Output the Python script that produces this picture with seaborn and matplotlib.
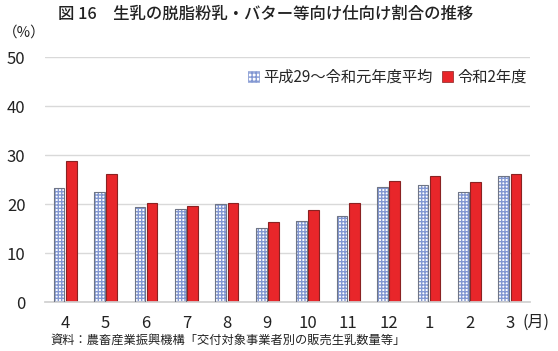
import matplotlib
matplotlib.use("Agg")
import matplotlib.pyplot as plt
import seaborn as sns
import pandas as pd
from matplotlib.patches import Rectangle, Patch

months = ["4", "5", "6", "7", "8", "9", "10", "11", "12", "1", "2", "3"]
avg_h29_r1 = [23.3, 22.4, 19.4, 19.0, 20.0, 15.1, 16.6, 17.6, 23.5, 23.8, 22.4, 25.8]
r2 = [28.8, 26.2, 20.3, 19.6, 20.2, 16.4, 18.7, 20.2, 24.7, 25.7, 24.4, 26.2]
series_names = ["平成29～令和元年度平均", "令和2年度"]
yticks = [0, 10, 20, 30, 40, 50]

sns.set_theme(style="white")
plt.rcParams['font.family'] = ['Noto Sans CJK JP', 'DejaVu Sans']

df = pd.DataFrame({
    "month": months * 2,
    "value": avg_h29_r1 + r2,
    "series": [series_names[0]] * len(months) + [series_names[1]] * len(months),
})

fig = plt.figure(figsize=(5.58, 3.51), dpi=100)
ax = fig.add_axes([0.0806, 0.1396, 0.8694, 0.698])

sns.barplot(data=df, x="month", y="value", hue="series", order=months,
            hue_order=series_names, palette=["#ffffff", "#e8262a"], saturation=1,
            width=0.6, gap=0.12, ax=ax, legend=False, errorbar=None)

n = len(months)
for i, p in enumerate(ax.patches[:2 * n]):
    if i < n:
        p.set_facecolor("#ffffff")
        p.set_hatch("+++++")
        p.set_edgecolor("#8297d2")
        p.set_linewidth(0)
        ax.add_patch(Rectangle(p.get_xy(), p.get_width(), p.get_height(),
                               fill=False, edgecolor="#6f7585", linewidth=0.8, zorder=3))
    else:
        p.set_facecolor("#e8262a")
        p.set_edgecolor("#8a2222")
        p.set_linewidth(0.8)

ax.set_ylim(0, 50)
ax.set_yticks(yticks)
ax.set_xlim(-0.5, n - 0.5)
ax.yaxis.grid(True, color="#d9d9d9", linewidth=1)
ax.set_axisbelow(True)
for s in ["left", "right", "top"]:
    ax.spines[s].set_visible(False)
ax.spines["bottom"].set_color("#d0d0d0")
ax.tick_params(axis="both", length=0, labelsize=12, colors="#222222")
ax.tick_params(axis="y", pad=14)
ax.tick_params(axis="x", pad=9)
ax.set_xlabel("")
ax.set_ylabel("")

fig.text(58 / 558, 1 - 14 / 351, "図 16　生乳の脱脂粉乳・バター等向け仕向け割合の推移",
         fontsize=11.8, ha="left", va="center", color="#222222", fontweight="medium")
fig.text(3 / 558, 1 - 33 / 351, "（%）", fontsize=10.5, ha="left", va="center", color="#222222")
fig.text(522 / 558, 1 - 322 / 351, "(月)", fontsize=11.5, ha="left", va="center", color="#222222")
fig.text(50 / 558, 1 - 340 / 351, "資料：農畜産業振興機構「交付対象事業者別の販売生乳数量等」",
         fontsize=8.8, ha="left", va="center", color="#222222")

handles = [Patch(facecolor="#ffffff", edgecolor="#8297d2", hatch="++++", linewidth=0.5),
           Patch(facecolor="#e8262a", edgecolor="#8a2222", linewidth=0.5)]
fig.legend(handles, series_names, loc="center left",
           bbox_to_anchor=(248 / 558, 1 - 77 / 351), ncol=2, frameon=False,
           fontsize=11, handlelength=0.7, handleheight=0.7,
           handletextpad=0.3, columnspacing=0.6, borderaxespad=0, borderpad=0)

fig.savefig("out.png", dpi=100)
